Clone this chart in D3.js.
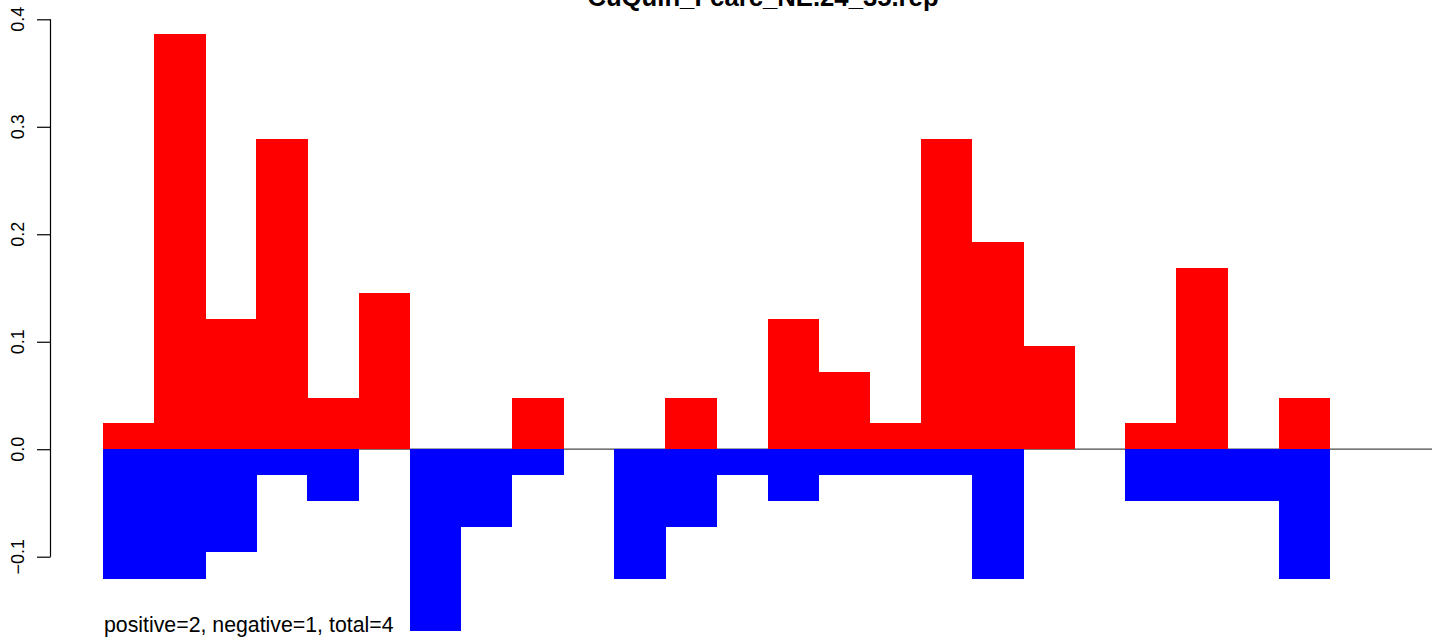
<!DOCTYPE html>
<html>
<head>
<meta charset="utf-8">
<script src="https://cdn.jsdelivr.net/npm/d3@7"></script>
<style>
  html, body { margin: 0; padding: 0; background: #fff; }
  svg { display: block; }
  text { font-family: "Liberation Sans", Arial, Helvetica, sans-serif; fill: #000; }
</style>
</head>
<body>
<svg id="chart" width="1449" height="643"></svg>
<script>
const title = "CuQuin_Fcarc_NE.24_35.rep";
const footnote = "positive=2, negative=1, total=4";
const categories = d3.range(1, 27).map(String);
const positiveValues = [0.024, 0.386, 0.121, 0.289, 0.048, 0.145, 0, 0, 0.048, 0, 0, 0.048, 0,
                        0.121, 0.072, 0.024, 0.289, 0.193, 0.096, 0, 0.024, 0.169, 0, 0.048, 0, 0];
const negativeValues = [-0.121, -0.121, -0.096, -0.024, -0.048, 0, -0.169, -0.072, -0.024, 0, -0.121, -0.072, -0.024,
                        -0.048, -0.024, -0.024, -0.024, -0.121, 0, 0, -0.048, -0.048, -0.048, -0.121, 0, 0];
const yTicks = [-0.1, 0.0, 0.1, 0.2, 0.3, 0.4];

const svg = d3.select("#chart");
const x = d3.scaleBand().domain(categories).range([103, 1432]).padding(0);
const y = d3.scaleLinear().domain([-0.1, 0.4]).range([556.7, 19.3]);

// baseline
svg.append("line")
  .attr("x1", x.range()[0]).attr("x2", x.range()[1])
  .attr("y1", y(0)).attr("y2", y(0))
  .attr("stroke", "#4a4a4a").attr("stroke-width", 1.2);

// positive bars
svg.append("g").selectAll("rect")
  .data(categories.map((c, i) => ({c, v: positiveValues[i]})).filter(d => d.v !== 0))
  .join("rect")
  .attr("x", d => x(d.c)).attr("width", x.bandwidth() + 0.5)
  .attr("y", d => y(d.v)).attr("height", d => y(0) - y(d.v))
  .attr("fill", "#ff0000").attr("shape-rendering", "crispEdges");

// negative bars
svg.append("g").selectAll("rect")
  .data(categories.map((c, i) => ({c, v: negativeValues[i]})).filter(d => d.v !== 0))
  .join("rect")
  .attr("x", d => x(d.c)).attr("width", x.bandwidth() + 0.5)
  .attr("y", y(0)).attr("height", d => y(d.v) - y(0))
  .attr("fill", "#0000ff").attr("shape-rendering", "crispEdges");

// y axis
const axis = d3.axisLeft(y).tickValues(yTicks).tickSize(13.5).tickFormat(d3.format(".1f"));
const ag = svg.append("g").attr("transform", "translate(50.5,0)").call(axis);
ag.select(".domain").attr("d", `M-0,${y(-0.1)}V${y(0.4)}`).attr("stroke", "#000").attr("stroke-width", 1.2);
ag.selectAll(".tick line").attr("stroke", "#000").attr("stroke-width", 1.2);
ag.selectAll(".tick text").remove();
svg.append("g").selectAll("text")
  .data(yTicks).join("text")
  .attr("transform", d => `translate(24,${y(d)}) rotate(-90)`)
  .attr("text-anchor", "middle")
  .attr("font-size", 18)
  .text(d => d3.format(".1f")(d).replace("-", "\u2212"));

// title
svg.append("text")
  .attr("x", 763).attr("y", 6)
  .attr("text-anchor", "middle")
  .attr("font-size", 25.7).attr("font-weight", "bold")
  .text(title);

// footnote
svg.append("text")
  .attr("x", 104).attr("y", 632)
  .attr("font-size", 21.3)
  .text(footnote);
</script>
</body>
</html>
